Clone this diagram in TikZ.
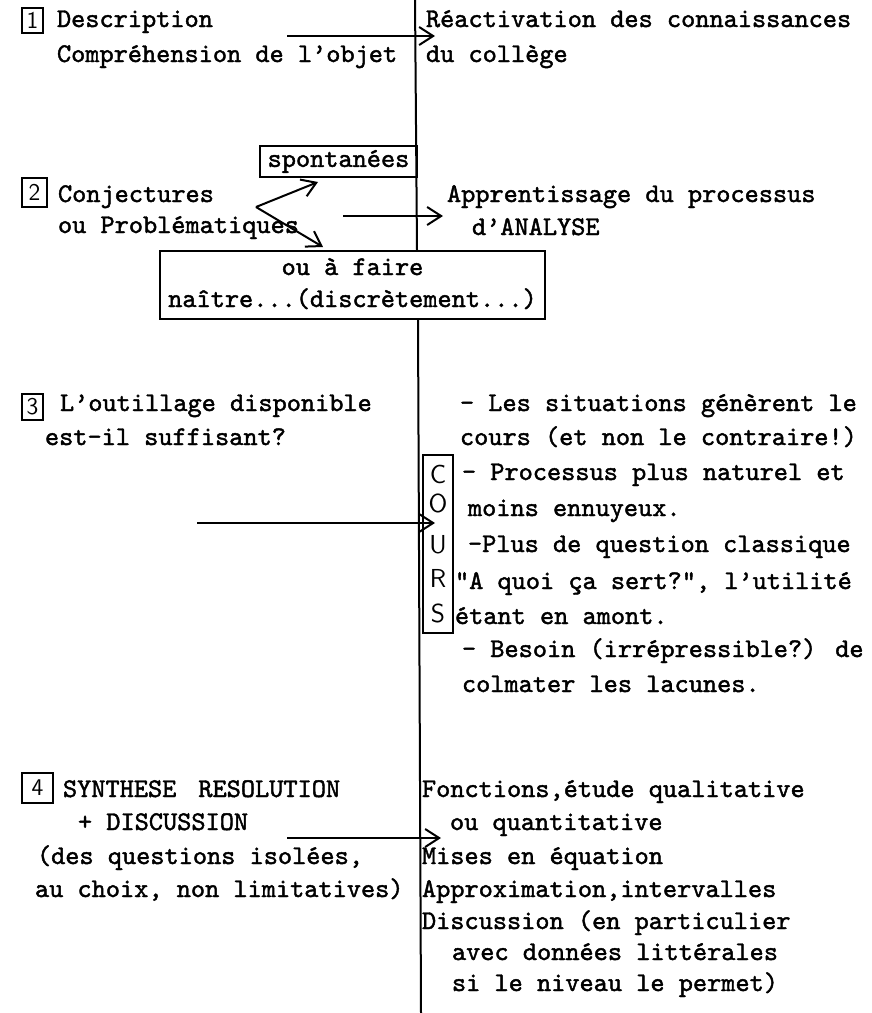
\documentclass[tikz,border=0pt]{standalone}
\usetikzlibrary{arrows.meta}
% typewriter face, slightly heavier than the stock weight
\font\twfont="[lmmono10-regular]:embolden=1.6" at 13.5pt
\begin{document}
\begin{tikzpicture}[x=0.5pt,y=-0.5pt,
  line width=1pt,
  tw/.style={anchor=base west,inner sep=0pt,outer sep=0pt,font=\twfont},
  numbox/.style={draw,line width=1pt,inner sep=0pt,
    font=\sffamily\fontsize{12}{12}\selectfont},
  hand/.style={inner sep=0pt,font=\sffamily\fontsize{13}{13}\selectfont},
  frame/.style={draw,line width=0.9pt,inner sep=0pt,font=\twfont},
  flow/.style={-{Straight Barb[length=7pt,width=9pt]},line width=1pt}
]
\useasboundingbox (0,0) rectangle (872,1013);

% --- 1
\node[numbox,minimum width=10.5pt,minimum height=12.5pt] (n1) at (32.5,20.5) {1};
\node[tw] (t1a) at (57,27) {Description};
\node[tw] (t1b) at (57,62) {Compréhension de l’objet};
\node[tw] (r1a) at (426,27) {Réactivation des connaissances};
\node[tw] (r1b) at (426,62) {du collège};

% --- 2
\node[frame,minimum width=78.5pt,minimum height=15.5pt] (spont) at (338.5,161.5) {spontanées};
\node[numbox,minimum width=12.5pt,minimum height=14.5pt] (n2) at (34.5,192.5) {2};
\node[tw] (t2a) at (58,202) {Conjectures};
\node[tw] (t2b) at (58,233) {ou Problématiques};
\node[tw] (r2a) at (447,202) {Apprentissage du processus};
\node[tw] (r2b) at (472,235) {d’ANALYSE};
\node[draw,line width=0.9pt,inner sep=0pt,minimum width=192.5pt,minimum height=34pt] (faire) at (352.5,285) {};
\node[tw,anchor=base] (f1) at (352.5,275) {ou à faire};
\node[tw,anchor=base] (f2) at (352.5,307) {naître...(discrètement...)};

% --- 3
\node[numbox,minimum width=10.5pt,minimum height=13pt] (n3) at (32.5,407) {3};
\node[tw] (t3a) at (60,411) {L’outillage disponible};
\node[tw] (t3b) at (45,445) {est-il suffisant?};
\node[tw] (r3a) at (460,411) {- Les situations génèrent le};
\node[tw] (r3b) at (460,445) {cours (et non le contraire!)};
\node[tw] (r3c) at (462,480) {- Processus plus naturel et};
\node[tw] (r3d) at (468,516) {moins ennuyeux.};
\node[tw] (r3e) at (468,552) {-Plus de question classique};
\node[tw] (r3f) at (455,589) {"A quoi ça sert?", l’utilité};
\node[tw] (r3g) at (455,624) {étant en amont.};
\node[tw] (r3h) at (462,657) {- Besoin (irrépressible?) de};
\node[tw] (r3i) at (462,692) {colmater les lacunes.};

% vertical COURS label
\node[draw,line width=1pt,inner sep=0pt,minimum width=15pt,minimum height=89pt] (cours) at (438,544) {};
\node[hand] (cC) at (438,474) {C};
\node[hand] (cO) at (438,503) {O};
\node[hand] (cU) at (438,545) {U};
\node[hand] (cR) at (438,578) {R};
\node[hand] (cS) at (438,613) {S};

% --- 4
\node[numbox,minimum width=15.5pt,minimum height=15pt] (n4) at (37.5,788) {4};
\node[tw] (t4a) at (63,797) {SYNTHESE\hskip 11pt RESOLUTION};
\node[tw] (t4b) at (78,830) {+ DISCUSSION};
\node[tw] (t4c) at (37,864) {(des questions isolées,};
\node[tw] (t4d) at (35,897) {au choix, non limitatives)};
\node[tw] (r4a) at (422,797) {Fonctions,étude qualitative};
\node[tw] (r4b) at (450,830) {ou quantitative};
\node[tw] (r4c) at (422,864) {Mises en équation};
\node[tw] (r4d) at (422,897) {Approximation,intervalles};
\node[tw] (r4e) at (422,929) {Discussion (en particulier};
\node[tw] (r4f) at (452,960) {avec données littérales};
\node[tw] (r4g) at (452,991) {si le niveau le permet)};

% dividing rule, broken by the framed remark
\coordinate (top) at (415,0);
\coordinate (bot) at (421,1013);
\draw (top) -- (faire.north -| 417,0);
\draw (faire.south -| 418,0) -- (bot);

% arrows
\coordinate (a1s) at (287,36);  \coordinate (a1e) at (435,36);
\coordinate (a2s) at (343,216); \coordinate (a2e) at (443,216);
\coordinate (a3s) at (197,523); \coordinate (a3e) at (435,523);
\coordinate (a4s) at (287,838); \coordinate (a4e) at (441,838);
\coordinate (fork) at (256,207);
\coordinate (up) at (318,182);
\coordinate (down) at (323,247);
\draw[flow] (a1s) -- (a1e);
\draw[flow] (a2s) -- (a2e);
\draw[flow] (a3s) -- (a3e);
\draw[flow] (a4s) -- (a4e);
\draw[flow] (fork) -- (up);
\draw[flow] (fork) -- (down);
\end{tikzpicture}
\end{document}
